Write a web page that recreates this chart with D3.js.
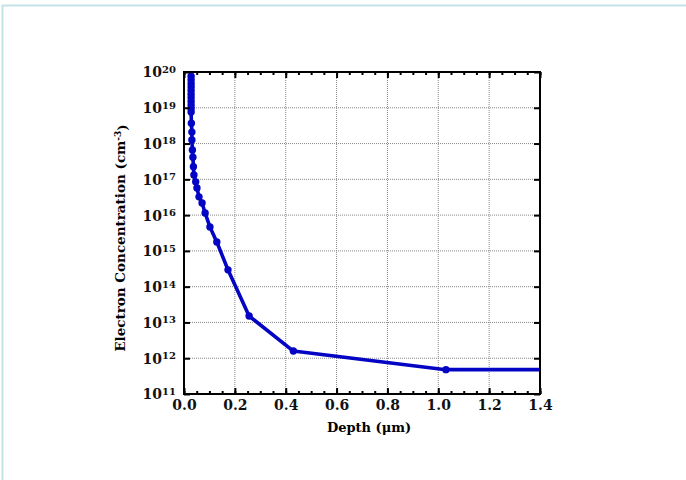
<!DOCTYPE html>
<meta charset="utf-8">
<style>
body { margin: 0; background: #fff; }
.tick text { font-family: "DejaVu Serif", serif; font-weight: bold; font-size: 14px; fill: #111; }
.grid line { stroke: #888; stroke-width: 1; stroke-dasharray: 1,1; }
.line { fill: none; stroke: #0404c4; stroke-width: 3.6px; stroke-linejoin: round; }
</style>
<body>
<script src="https://d3js.org/d3.v7.min.js"></script>
<script>

// depth (um) and log10 of electron concentration (cm^-3)
var depth = [0.028, 0.028, 0.028, 0.028, 0.028, 0.028, 0.028, 0.028, 0.028, 0.028, 0.028,
             0.029, 0.031, 0.031, 0.033, 0.035, 0.037, 0.039, 0.046, 0.051, 0.059,
             0.071, 0.083, 0.102, 0.129, 0.173, 0.256, 0.43, 1.03, 1.4];
var logConc = [19.88, 19.78, 19.68, 19.58, 19.48, 19.38, 19.28, 19.18, 19.08, 18.98, 18.88,
               18.57, 18.32, 18.10, 17.82, 17.62, 17.35, 17.12, 16.93, 16.76, 16.51,
               16.34, 16.06, 15.67, 15.25, 14.47, 13.18, 12.2, 11.68, 11.68];
// the last point only extends the line to the edge, no marker
var markerCount = depth.length - 1;

var xTicks = [0.0, 0.2, 0.4, 0.6, 0.8, 1.0, 1.2, 1.4];
var xMinor = d3.range(0, 1.4001, 0.05);
var yExp = [11, 12, 13, 14, 15, 16, 17, 18, 19, 20];

var data = depth.map(function(d, i) { return {x: d, y: Math.pow(10, logConc[i])}; });

var margin = {top: 72, left: 184},
    width = 356,
    height = 322;

var svg = d3.select("body").append("svg")
    .attr("width", 686)
    .attr("height", 480);

// light page frame
svg.append("line").attr("x1", 2).attr("x2", 686).attr("y1", 5.5).attr("y2", 5.5)
    .style("stroke", "#c4e4e8").style("stroke-width", 2);
svg.append("line").attr("x1", 2.5).attr("x2", 2.5).attr("y1", 5).attr("y2", 480)
    .style("stroke", "#c4e4e8").style("stroke-width", 2);

var g = svg.append("g")
    .attr("transform", "translate(" + margin.left + "," + margin.top + ")");

var x = d3.scaleLinear().domain([0, 1.4]).range([0, width]);
var y = d3.scaleLog().domain([1e11, 1e20]).range([height, 0]);

// grid
g.append("g").attr("class", "grid")
  .selectAll("line").data(xTicks.slice(1, -1)).enter().append("line")
    .attr("x1", d => x(d)).attr("x2", d => x(d))
    .attr("y1", 0).attr("y2", height);
g.append("g").attr("class", "grid")
  .selectAll("line").data(yExp.slice(1, -1)).enter().append("line")
    .attr("x1", 0).attr("x2", width)
    .attr("y1", d => y(Math.pow(10, d))).attr("y2", d => y(Math.pow(10, d)));

// curve
g.append("path")
    .datum(data)
    .attr("class", "line")
    .attr("d", d3.line().x(d => x(d.x)).y(d => y(d.y)));

g.selectAll(".dot").data(data.slice(0, markerCount)).enter().append("circle")
    .attr("class", "dot")
    .attr("cx", d => x(d.x))
    .attr("cy", d => y(d.y))
    .attr("r", 3.7)
    .style("fill", "#0404c4");

// axes: inward ticks
function styleAxis(sel) {
  sel.select(".domain").remove();
  sel.selectAll(".tick line").style("stroke", "#000").style("stroke-width", 2);
}

g.append("g")
    .attr("transform", "translate(0," + height + ")")
    .call(d3.axisBottom(x).tickValues(xMinor).tickSize(-3).tickFormat(""))
    .call(styleAxis);
g.append("g")
    .attr("transform", "translate(0," + height + ")")
    .call(d3.axisBottom(x).tickValues(xTicks).tickSize(-6).tickPadding(6).tickFormat(d3.format(".1f")))
    .call(styleAxis);
g.append("g")
    .call(d3.axisTop(x).tickValues(xMinor).tickSize(-3).tickFormat(""))
    .call(styleAxis);
g.append("g")
    .call(d3.axisTop(x).tickValues(xTicks).tickSize(-6).tickFormat(""))
    .call(styleAxis);

var yAxis = g.append("g")
    .call(d3.axisLeft(y).tickValues(yExp.map(e => Math.pow(10, e))).tickSize(-6).tickPadding(8).tickFormat(""))
    .call(styleAxis);
yAxis.selectAll(".tick text").each(function(d) {
  var t = d3.select(this).attr("dy", "0.35em");
  t.append("tspan").text("10");
  t.append("tspan").attr("dy", "-0.45em").style("font-size", "10px").text(Math.round(Math.log10(d)));
});
g.append("g")
    .attr("transform", "translate(" + width + ",0)")
    .call(d3.axisRight(y).tickValues(yExp.map(e => Math.pow(10, e))).tickSize(-6).tickFormat(""))
    .call(styleAxis);

// frame
g.append("rect")
    .attr("width", width).attr("height", height)
    .style("fill", "none").style("stroke", "#000").style("stroke-width", 2);

// labels
g.append("text")
    .attr("x", width / 2 + 7)
    .attr("y", height + 38)
    .style("text-anchor", "middle")
    .style("font-family", "DejaVu Serif").style("font-weight", "bold").style("font-size", "13px")
    .text("Depth (\u03bcm)");

var yl = g.append("text")
    .attr("transform", "translate(-59," + (height / 2 + 5) + ") rotate(-90)")
    .style("text-anchor", "middle")
    .style("font-family", "DejaVu Serif").style("font-weight", "bold").style("font-size", "13.5px");
yl.append("tspan").text("Electron Concentration (cm");
yl.append("tspan").attr("dy", "-0.45em").style("font-size", "9px").text("-3");
yl.append("tspan").attr("dy", "0.45em").text(")");

</script>
</body>
